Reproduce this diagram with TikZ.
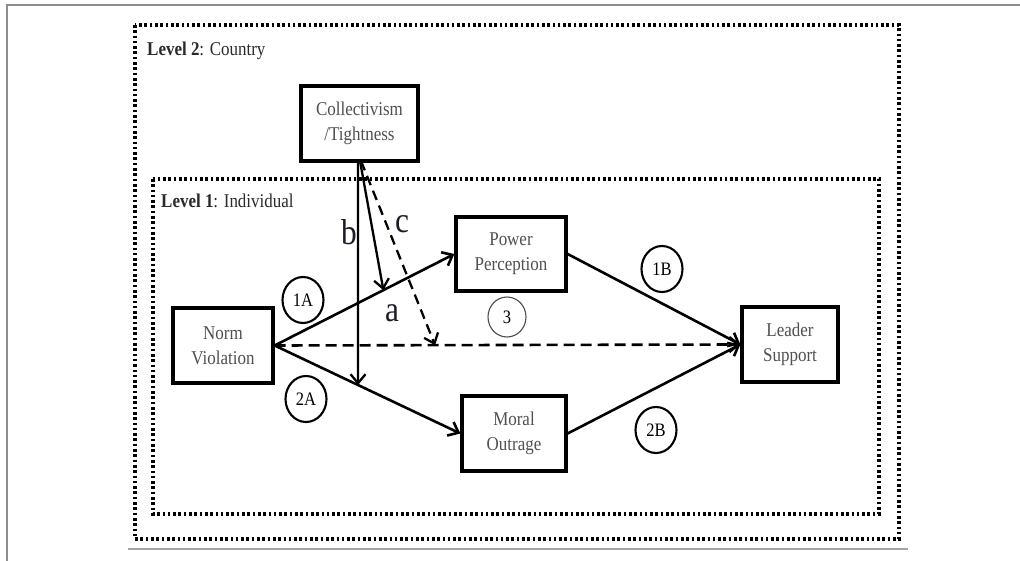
\documentclass[tikz,border=0pt]{standalone}
\usepackage{fontspec}
\setmainfont{Liberation Serif}[FakeStretch=0.87]
\usetikzlibrary{arrows.meta,shapes.geometric}

\definecolor{pagerule}{HTML}{8E8E8E}
\definecolor{boxtext}{HTML}{505050}
\definecolor{leveltext}{HTML}{2A2A2A}
\definecolor{lettertext}{HTML}{1C1C28}

\tikzset{
  levelframe/.style={line width=3.2pt, dash pattern=on 2.6pt off 2.7pt},
  varbox/.style={draw=black, line width=3.3pt, fill=white, text=boxtext,
    font=\fontsize{19.5}{25}\selectfont, align=center, inner sep=0pt},
  pathtag/.style={draw=black, ellipse, line width=2.1pt, fill=white,
    minimum width=41pt, minimum height=46pt, inner sep=0pt,
    font=\fontsize{19}{22}\selectfont},
  leveltag/.style={anchor=base west, inner sep=0pt, text=leveltext,
    font=\fontsize{19.5}{24}\selectfont},
  effect/.style={anchor=base, inner sep=0pt, text=lettertext,
    font=\fontsize{36}{36}\selectfont},
  link/.style={line width=2.6pt, -{Straight Barb[length=9pt,width=15pt]}},
  dashedlink/.style={link, dash pattern=on 11pt off 6pt},
}

\begin{document}
\begin{tikzpicture}[x=1pt,y=-1pt]
\useasboundingbox (0,0) rectangle (1020,561);

% page rules
\draw[pagerule, line width=2.5pt] (7,561) -- (7,5) -- (1020,5);
\draw[pagerule!80, line width=1.4pt] (128,549) -- (908,549);

% level frames
\draw[levelframe] (135,25) rectangle (899,539);
\draw[levelframe] (153,179) rectangle (879,514);
\node[leveltag] (lvl2) at (147,56) {\textbf{Level 2}: Country};
\node[leveltag] (lvl1) at (161,208) {\textbf{Level 1}: Individual};

% variables
\node[varbox, minimum width=117pt, minimum height=75pt] (coll) at (359.5,123.5) {Collectivism\\/Tightness};
\node[varbox, minimum width=100pt, minimum height=75pt] (nv) at (223,345.5) {Norm\\Violation};
\node[varbox, minimum width=110pt, minimum height=74pt] (pp) at (511,254) {Power\\Perception};
\node[varbox, minimum width=104pt, minimum height=75pt] (mo) at (514,433.5) {Moral\\Outrage};
\node[varbox, minimum width=96pt, minimum height=75pt] (ls) at (790,344.5) {Leader\\Support};

% main paths
\draw[link] (nv.east) -- (pp.west);
\draw[link] (nv.east) -- (mo.west);
\draw[dashedlink] (nv.east) -- (ls.west);
\draw[link] (pp.east) -- (ls.west);
\draw[link] (mo.east) -- (ls.west);

% moderation by the country level
\coordinate (bTop) at (358,161);
\coordinate (bDir) at (358,420);
\coordinate (aTop) at (360,161);
\coordinate (aDir) at (383,288);
\coordinate (cTop) at (361,161);
\coordinate (cDir) at (435,345);
\coordinate (bEnd) at (intersection of nv.east--mo.west and bTop--bDir);
\coordinate (aEnd) at (intersection of nv.east--pp.west and aTop--aDir);
\coordinate (cEnd) at (intersection of nv.east--ls.west and cTop--cDir);
\draw[link, line width=2.3pt] (bTop) -- (bEnd);
\draw[link, line width=2.3pt] (aTop) -- (aEnd);
\draw[dashedlink, line width=2.3pt, dash pattern=on 10pt off 6pt] (cTop) -- (cEnd);

\node[effect] (labB) at (349,245) {b};
\node[effect] (labC) at (402,233) {c};
\node[effect] (labA) at (392,322) {a};

% path tags
\node[pathtag] (t1a) at (303,300) {1A};
\node[pathtag] (t2a) at (306,399) {2A};
\node[pathtag] (t1b) at (662,269) {1B};
\node[pathtag] (t2b) at (656,430) {2B};
\node[pathtag, draw=black!70, line width=1.1pt, minimum width=38pt, minimum height=40pt] (t3) at (507,317) {3};

\end{tikzpicture}
\end{document}
